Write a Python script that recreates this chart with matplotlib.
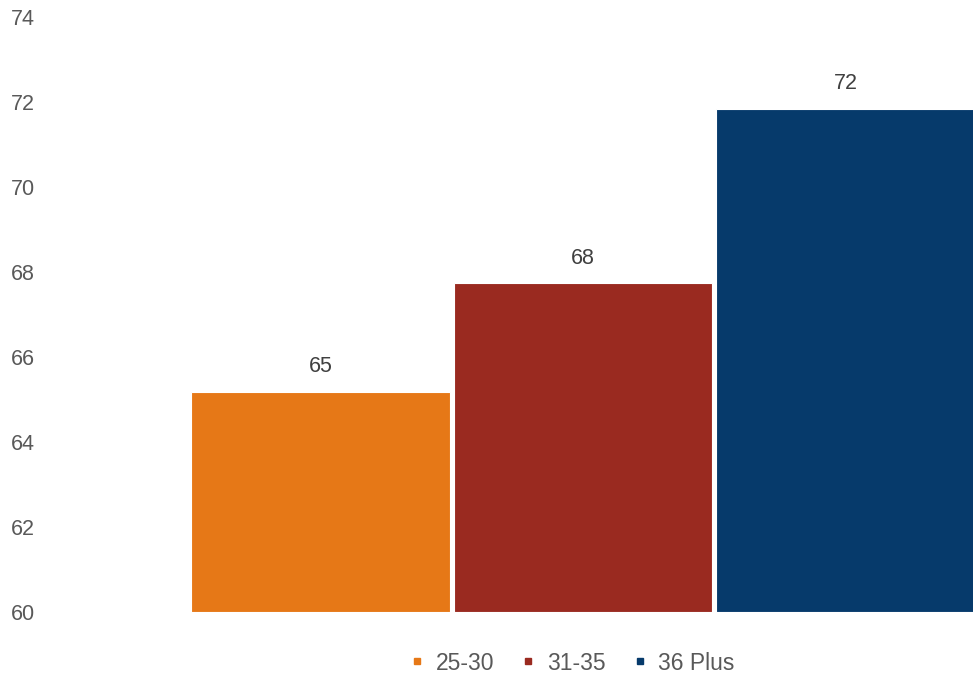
import matplotlib
matplotlib.use("Agg")
import matplotlib.pyplot as plt
from matplotlib.lines import Line2D

plt.rcParams["font.family"] = ["Liberation Sans", "DejaVu Sans"]

# age groups and their average values
groups = ["25-30", "31-35", "36 Plus"]
values = [65.18, 67.74, 71.84]
colors = ["#E67817", "#9A2A20", "#063A6B"]
yticks = [60, 62, 64, 66, 68, 70, 72, 74]

fig = plt.figure(figsize=(9.73, 6.78), dpi=100)
ax = fig.add_axes([50 / 973, 66 / 678, 923 / 973, 595 / 678])

positions = [-1, 0, 1]
ax.bar(positions, [v - 60 for v in values], bottom=60, width=0.985,
       color=colors, edgecolor="white", linewidth=0.8)

for x, v in zip(positions, values):
    ax.text(x, v + 0.34, f"{v:.0f}", ha="center", va="bottom",
            fontsize=15.5, color="#404040")

ax.set_ylim(60, 74)
ax.set_xlim(-2.030, 1.486)
ax.set_yticks(yticks)
ax.set_yticklabels([str(t) for t in yticks])
ax.set_xticks([])
ax.tick_params(axis="y", length=0, pad=11, labelsize=15.5, labelcolor="#595959")
for side in ax.spines.values():
    side.set_visible(False)

handles = [Line2D([], [], marker="s", linestyle="none", markersize=5,
                  markerfacecolor=c, markeredgecolor=c) for c in colors]
fig.legend(handles, groups, loc="center", bbox_to_anchor=(570 / 973, 1 - 663 / 678),
           ncol=3, frameon=False, fontsize=16.5, labelcolor="#595959",
           handletextpad=0.3, columnspacing=1.0, handlelength=1.0)

fig.savefig("out.png", dpi=100)
